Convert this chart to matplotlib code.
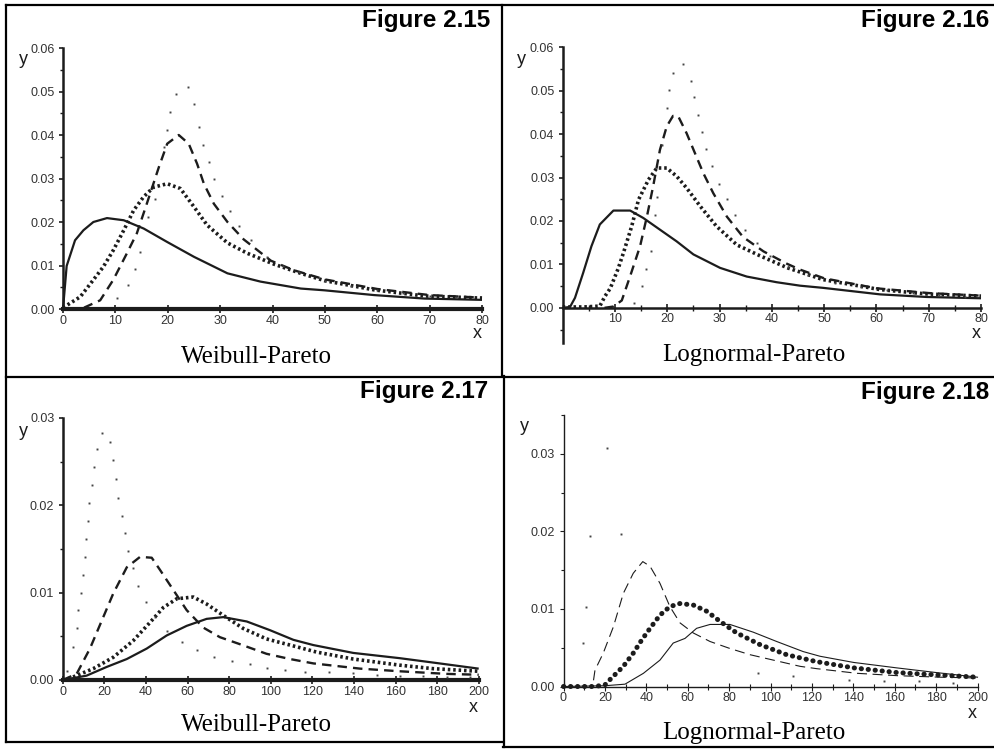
import matplotlib
matplotlib.use("Agg")
import matplotlib.pyplot as plt
from matplotlib.lines import Line2D
from matplotlib.ticker import MultipleLocator, FixedLocator

W, H = 994, 749

# ---------------- data ----------------
# Figure 2.15  Weibull-Pareto
p1_solid_x = [0, 0.7, 2.3, 3.9, 5.8, 8.4, 11.6, 15.4, 19.9, 25, 31.4, 37.7, 45.4, 49.9, 59.4, 69, 80]
p1_solid_y = [0, 0.0099, 0.0158, 0.0181, 0.0200, 0.0209, 0.0204, 0.0185, 0.0154, 0.0120, 0.0082, 0.0063, 0.0047, 0.0043, 0.0032, 0.0024, 0.0021]
p1_dot_x = [0, 3.3, 5.8, 7.7, 9.6, 11.6, 13.5, 15.4, 17.3, 19.9, 22.4, 25, 27.5, 31.4, 35.2, 40.3, 45.4, 50, 59.4, 69, 80]
p1_dot_y = [0.0003, 0.0028, 0.0067, 0.0097, 0.0135, 0.0181, 0.0227, 0.0258, 0.0280, 0.0288, 0.0277, 0.0235, 0.0193, 0.0152, 0.0128, 0.0103, 0.0082, 0.0065, 0.0044, 0.0030, 0.0025]
p1_dash_x = [1, 4, 7.1, 9.6, 12.2, 14.1, 16.0, 18.3, 19.9, 22.1, 24.0, 25.6, 26.9, 28.8, 31.4, 34.5, 39.7, 44.1, 50, 60, 70, 80]
p1_dash_y = [0, 0.0003, 0.0020, 0.0067, 0.0128, 0.0174, 0.0242, 0.0326, 0.0380, 0.0400, 0.0380, 0.0334, 0.0288, 0.0242, 0.0200, 0.0160, 0.0111, 0.0089, 0.0068, 0.0046, 0.0032, 0.0026]
p1_sparse_x = [10.3, 12.5, 13.8, 14.75, 16.3, 17.6, 19.2, 19.9, 20.5, 21.6, 23.9, 25.0, 25.9, 26.8, 27.8, 28.9, 30.3, 31.9, 33.6, 35.8, 39.0, 42, 45, 50, 55, 60, 65, 70, 75]
p1_sparse_y = [0.0025, 0.0055, 0.0093, 0.0131, 0.0212, 0.0254, 0.0372, 0.0412, 0.0453, 0.0495, 0.0510, 0.0472, 0.0418, 0.0378, 0.0338, 0.0300, 0.0260, 0.0226, 0.0190, 0.0158, 0.0120, 0.0100, 0.0085, 0.0065, 0.0052, 0.0044, 0.0037, 0.0031, 0.0028]

# Figure 2.16  Lognormal-Pareto
p2_solid_x = [0, 1.4, 2.35, 3.9, 5.5, 7.1, 9.7, 12.9, 15.4, 18.6, 21.8, 25, 30.1, 35.2, 40.9, 45.4, 49.8, 60.7, 69.6, 80]
p2_solid_y = [0, 0.0002, 0.0023, 0.0080, 0.0142, 0.0192, 0.0224, 0.0224, 0.0207, 0.0180, 0.0153, 0.0123, 0.0092, 0.0072, 0.0059, 0.0051, 0.0046, 0.0031, 0.0025, 0.0022]
p2_dot_x = [0, 4, 7.1, 8.1, 9.1, 10.6, 11.6, 13.2, 14.5, 16.4, 18.0, 19.9, 21.8, 23.7, 26.3, 29.4, 33.3, 37.7, 43, 49.8, 60.7, 69.6, 80]
p2_dot_y = [0.0002, 0.0002, 0.0004, 0.0027, 0.0045, 0.0090, 0.0126, 0.0188, 0.0249, 0.0295, 0.0322, 0.0322, 0.0303, 0.0276, 0.0234, 0.0188, 0.0145, 0.0120, 0.0092, 0.0065, 0.0042, 0.0032, 0.0027]
p2_dash_x = [8, 9.7, 11.3, 12.9, 14.8, 16.1, 17.3, 18.6, 19.9, 21.1, 22.1, 23.7, 25.3, 26.9, 28.8, 31.4, 34.5, 38.4, 42.8, 45.4, 50, 60, 70, 80]
p2_dash_y = [0, 0.0003, 0.0017, 0.0073, 0.0142, 0.0210, 0.0280, 0.0364, 0.0418, 0.0442, 0.0441, 0.0402, 0.0356, 0.0310, 0.0264, 0.0210, 0.0163, 0.0130, 0.0102, 0.0088, 0.0068, 0.0045, 0.0034, 0.0028]
p2_sparse_x = [13.6, 15.1, 15.9, 16.8, 17.6, 18.1, 18.9, 20.0, 20.4, 21.1, 23.1, 24.5, 25.1, 25.9, 26.6, 27.5, 28.5, 29.8, 31.4, 32.9, 34.9, 37.1, 39.6, 43, 47, 52, 57, 62, 67, 72, 77]
p2_sparse_y = [0.0011, 0.0050, 0.0090, 0.0132, 0.0214, 0.0255, 0.0375, 0.0460, 0.0502, 0.0540, 0.0562, 0.0523, 0.0485, 0.0444, 0.0406, 0.0366, 0.0326, 0.0286, 0.0250, 0.0214, 0.0180, 0.0150, 0.0119, 0.0095, 0.0075, 0.0058, 0.0047, 0.0040, 0.0034, 0.0030, 0.0026]

# Figure 2.17  Weibull-Pareto
p3_solid_x = [0, 11.5, 21.2, 30.8, 40.4, 50, 59.6, 69.2, 77.2, 88.5, 99.7, 110.9, 120.5, 139.7, 162, 178, 200]
p3_solid_y = [0, 0.0005, 0.0015, 0.0024, 0.0036, 0.0051, 0.0062, 0.0070, 0.0072, 0.0067, 0.0057, 0.0046, 0.0040, 0.0031, 0.0025, 0.0020, 0.0013]
p3_dot_x = [0, 3.5, 14.7, 24.3, 33.9, 42, 48.4, 54.8, 62.8, 69.2, 77.2, 86.8, 98, 110.9, 122, 139.7, 162, 178, 200]
p3_dot_y = [0, 0.0002, 0.0013, 0.0026, 0.0045, 0.0066, 0.0083, 0.0093, 0.0095, 0.0087, 0.0074, 0.0059, 0.0047, 0.0039, 0.0032, 0.0024, 0.0017, 0.0013, 0.0010]
p3_dash_x = [0, 6.7, 13.1, 19.5, 24.3, 30.8, 37.2, 42.8, 46.8, 53.2, 59.6, 67.6, 75.6, 85.2, 98, 109.3, 120.5, 143, 162, 184.6, 200]
p3_dash_y = [0, 0.0007, 0.0036, 0.0072, 0.0099, 0.0129, 0.0141, 0.0140, 0.0126, 0.0103, 0.0080, 0.0060, 0.0049, 0.0041, 0.0030, 0.0024, 0.0019, 0.0013, 0.0010, 0.0007, 0.0006]
p3_sparse_x = [2, 5.1, 6.7, 7.5, 8.6, 9.6, 10.7, 11.2, 12.3, 12.8, 13.9, 15.0, 16.6, 18.7, 22.7, 24.0, 25.5, 26.7, 28.3, 29.9, 31.5, 33.9, 36.3, 40.0, 44.4, 50.3, 57.2, 64.4, 72.7, 81.3, 90.0, 98.0, 106.9, 116.5, 128, 139.7, 151, 162, 173, 184.6, 196]
p3_sparse_y = [0.0010, 0.0038, 0.0060, 0.0080, 0.0100, 0.0120, 0.0141, 0.0162, 0.0182, 0.0203, 0.0223, 0.0244, 0.0264, 0.0283, 0.0273, 0.0252, 0.0230, 0.0208, 0.0188, 0.0168, 0.0148, 0.0128, 0.0108, 0.0089, 0.0072, 0.0056, 0.0043, 0.0034, 0.0026, 0.0022, 0.0018, 0.0014, 0.0011, 0.0009, 0.0009, 0.0008, 0.0006, 0.0005, 0.0005, 0.0004, 0.0003]

# Figure 2.18  Lognormal-Pareto
p4_solid_x = [0, 20, 29.7, 38.6, 46.6, 53, 58.7, 64.3, 70.8, 80.4, 91.7, 103, 115.8, 123.9, 140.2, 161, 180, 200]
p4_solid_y = [0, 0.0001, 0.0003, 0.0017, 0.0034, 0.0056, 0.0062, 0.0075, 0.0080, 0.0080, 0.0070, 0.0058, 0.0045, 0.0039, 0.0031, 0.0024, 0.0018, 0.0012]
p4_dot_x = [0, 5, 10, 15, 20, 22.5, 28.9, 33.7, 37.8, 41.8, 46.6, 51.4, 56.3, 62.7, 69.2, 75.6, 83.7, 94.9, 107.8, 122.3, 140.2, 161, 180, 200]
p4_dot_y = [0, 0, 0, 0, 0.0002, 0.0009, 0.0026, 0.0043, 0.0060, 0.0075, 0.0092, 0.0103, 0.0107, 0.0105, 0.0097, 0.0084, 0.0069, 0.0054, 0.0041, 0.0032, 0.0024, 0.0018, 0.0015, 0.0012]
p4_dash_x = [14.5, 15.2, 19.2, 24.1, 28.9, 33.7, 38.3, 41.8, 46.6, 51.4, 56.3, 62.7, 70.8, 80.4, 90.1, 101.4, 114.3, 122.3, 141.8, 161, 182, 200]
p4_dash_y = [0.0008, 0.0021, 0.0043, 0.0077, 0.0120, 0.0146, 0.0161, 0.0155, 0.0133, 0.0103, 0.0082, 0.0069, 0.0058, 0.0049, 0.0041, 0.0034, 0.0026, 0.0023, 0.0017, 0.0014, 0.0012, 0.0011]
p4_sparse_x = [9.3, 10.9, 12.8, 20.9, 27.6, 94.1, 111, 137.8, 154.7, 171.6, 188]
p4_sparse_y = [0.0056, 0.0102, 0.0194, 0.0308, 0.0196, 0.0018, 0.0013, 0.0008, 0.0007, 0.0007, 0.0005]

titles = ["Figure 2.15", "Figure 2.16", "Figure 2.17", "Figure 2.18"]
subtitles = ["Weibull-Pareto", "Lognormal-Pareto", "Weibull-Pareto", "Lognormal-Pareto"]

# ---------------- drawing ----------------
fig = plt.figure(figsize=(W / 100, H / 100), dpi=100)
fig.patch.set_facecolor("white")

INK = "#1c1c1c"
SANS = "Liberation Sans"
SERIF = "Liberation Serif"
TICK_FS = 9


def fx(px):
    return px / W


def fy(py):
    return 1 - py / H


def add_ax(x0, x1, ytop, ybot):
    return fig.add_axes([fx(x0), fy(ybot), (x1 - x0) / W, (ybot - ytop) / H])


def style_axis(ax, xw, yw):
    for s in ["top", "right"]:
        ax.spines[s].set_visible(False)
    ax.spines["left"].set_linewidth(yw)
    ax.spines["bottom"].set_linewidth(xw)
    ax.spines["left"].set_color(INK)
    ax.spines["bottom"].set_color(INK)
    ax.spines["bottom"].set_position(("data", 0))
    ax.patch.set_alpha(0)
    ax.tick_params(axis="y", which="major", direction="out", length=3, width=1.2,
                   colors=INK, labelcolor="#333333", labelsize=TICK_FS, pad=3)
    ax.tick_params(axis="y", which="minor", direction="out", length=2, width=1, colors=INK)
    ax.tick_params(axis="x", which="major", direction="inout", length=6, width=1.2,
                   colors=INK, labelcolor="#333333", labelsize=TICK_FS, pad=1)
    ax.tick_params(axis="x", which="minor", direction="inout", length=4, width=1, colors=INK)
    for lab in ax.get_xticklabels() + ax.get_yticklabels():
        lab.set_fontfamily(SANS)


def draw_heavy(ax, sx, sy, dx, dy, ox, oy, px, py):
    ax.plot(sx, sy, color=INK, lw=1.6, solid_capstyle="butt", clip_on=False, zorder=3)
    ax.plot(ox, oy, color=INK, lw=2.6, linestyle=(0, (0.7, 0.8)), clip_on=False, zorder=3)
    ax.plot(dx, dy, color=INK, lw=1.7, linestyle=(0, (4, 2.6)), clip_on=False, zorder=3)
    ax.plot(px, py, linestyle="none", marker="s", markersize=1.4, markeredgewidth=0,
            color="#444444", clip_on=False, zorder=3)


# Panel 1
ax1 = add_ax(63, 482, 48, 309)
ax1.set_xlim(0, 80)
ax1.set_ylim(0, 0.06)
ax1.yaxis.set_major_locator(MultipleLocator(0.01))
ax1.yaxis.set_minor_locator(MultipleLocator(0.005))
ax1.xaxis.set_major_locator(MultipleLocator(10))
ax1.set_yticklabels([f"{v:.2f}" for v in ax1.get_yticks()])
style_axis(ax1, 3.0, 1.8)
draw_heavy(ax1, p1_solid_x, p1_solid_y, p1_dash_x, p1_dash_y, p1_dot_x, p1_dot_y,
           p1_sparse_x, p1_sparse_y)

# Panel 2
ax2 = add_ax(562.7, 981, 47.3, 343)
ax2.set_xlim(0, 80)
ax2.set_ylim(-0.0081, 0.06)
ax2.yaxis.set_major_locator(FixedLocator([0, 0.01, 0.02, 0.03, 0.04, 0.05, 0.06]))
ax2.yaxis.set_minor_locator(FixedLocator([-0.005, 0.005, 0.015, 0.025, 0.035, 0.045, 0.055]))
ax2.xaxis.set_major_locator(FixedLocator([10, 20, 30, 40, 50, 60, 70, 80]))
ax2.xaxis.set_minor_locator(FixedLocator([5, 15, 25, 35, 45, 55, 65, 75]))
ax2.set_yticklabels([f"{v:.2f}" for v in ax2.get_yticks()])
style_axis(ax2, 1.8, 1.8)
draw_heavy(ax2, p2_solid_x, p2_solid_y, p2_dash_x, p2_dash_y, p2_dot_x, p2_dot_y,
           p2_sparse_x, p2_sparse_y)

# Panel 3
ax3 = add_ax(62.7, 478.7, 418, 680)
ax3.set_xlim(0, 200)
ax3.set_ylim(0, 0.03)
ax3.yaxis.set_major_locator(MultipleLocator(0.01))
ax3.yaxis.set_minor_locator(MultipleLocator(0.005))
ax3.xaxis.set_major_locator(MultipleLocator(20))
ax3.set_yticklabels([f"{v:.2f}" for v in ax3.get_yticks()])
style_axis(ax3, 3.0, 1.8)
draw_heavy(ax3, p3_solid_x, p3_solid_y, p3_dash_x, p3_dash_y, p3_dot_x, p3_dot_y,
           p3_sparse_x, p3_sparse_y)

# Panel 4
ax4 = add_ax(563.5, 977.5, 415, 686.5)
ax4.set_xlim(0, 200)
ax4.set_ylim(0, 0.035)
ax4.yaxis.set_major_locator(FixedLocator([0, 0.01, 0.02, 0.03]))
ax4.yaxis.set_minor_locator(FixedLocator([0.005, 0.015, 0.025, 0.035]))
ax4.xaxis.set_major_locator(MultipleLocator(20))
ax4.xaxis.set_minor_locator(MultipleLocator(10))
ax4.set_yticklabels([f"{v:.2f}" for v in ax4.get_yticks()])
style_axis(ax4, 1.0, 1.0)
ax4.tick_params(axis="both", which="both", width=0.8)
ax4.plot(p4_solid_x, p4_solid_y, color=INK, lw=0.8, clip_on=False, zorder=3)
ax4.plot(p4_dash_x, p4_dash_y, color=INK, lw=0.8, linestyle=(0, (9, 5)), clip_on=False, zorder=3)
ax4.plot(p4_dot_x, p4_dot_y, color=INK, lw=3.6, linestyle=(0, (0.05, 1.35)),
         dash_capstyle="round", clip_on=False, zorder=4)
ax4.plot(p4_sparse_x, p4_sparse_y, linestyle="none", marker="s", markersize=1.4,
         markeredgewidth=0, color="#444444", clip_on=False, zorder=3)

# axis letters
for (xx, yy) in [(23, 59), (521, 59), (23, 432), (524, 427)]:
    fig.text(fx(xx), fy(yy), "y", fontsize=13, family=SANS, color=INK, ha="center", va="center")
for (xx, yy) in [(477, 334), (976, 334), (473, 707), (972, 714)]:
    fig.text(fx(xx), fy(yy), "x", fontsize=13, family=SANS, color=INK, ha="center", va="center")

# titles and subtitles
for t, (xx, yy) in zip(titles, [(490, 21), (989, 21), (488, 392), (989, 393)]):
    fig.text(fx(xx), fy(yy), t, fontsize=17.5, family=SANS, weight="bold", color="black",
             ha="right", va="center")
for t, (xx, yy) in zip(subtitles, [(256, 357), (754, 355), (256, 725), (754, 733)]):
    fig.text(fx(xx), fy(yy), t, fontsize=18, family=SERIF, color="black",
             ha="center", va="center")

# frame lines
frame = [((6, 994), (5, 5)), ((6, 6), (5, 742)), ((6, 503), (742, 742)), ((503, 994), (747, 747)),
         ((502, 502), (5, 376)), ((504, 504), (376, 747)), ((6, 994), (376.5, 376.5))]
for (xs, ys) in frame:
    fig.add_artist(Line2D([fx(v) for v in xs], [fy(v) for v in ys], color="black", lw=1.6))

fig.savefig("out.png", dpi=100)
